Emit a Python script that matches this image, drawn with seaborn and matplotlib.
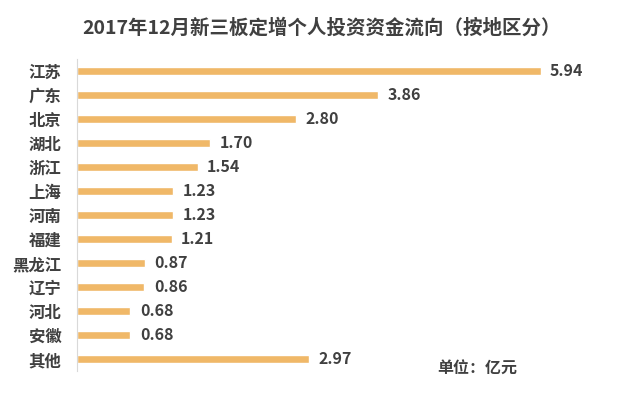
import pandas as pd
import matplotlib
matplotlib.use("Agg")
import matplotlib.pyplot as plt
import seaborn as sns

regions = ["江苏", "广东", "北京", "湖北", "浙江", "上海", "河南", "福建",
           "黑龙江", "辽宁", "河北", "安徽", "其他"]
amounts = [5.94, 3.86, 2.80, 1.70, 1.54, 1.23, 1.23, 1.21, 0.87, 0.86, 0.68, 0.68, 2.97]

title = "2017年12月新三板定增个人投资资金流向（按地区分）"
unit_note = "单位：亿元"

df = pd.DataFrame({"region": regions, "amount": amounts})

sns.set_style("white")
plt.rcParams['font.family'] = ['Noto Sans CJK SC', 'DejaVu Sans']

text_color = "#404040"
bar_color = "#F0B868"

fig = plt.figure(figsize=(6.4, 3.99), dpi=100)
ax = fig.add_axes([0.121, 0.070, 0.865, 0.782])

sns.barplot(data=df, y="region", x="amount", orient="h", color=bar_color,
            width=0.3, saturation=1, ax=ax)

ax.set_xlim(0, 7.1)
ax.set_ylim(len(regions) - 0.5, -0.5)
ax.set_xlabel("")
ax.set_ylabel("")
ax.set_xticks([])

for s in ["top", "right", "bottom"]:
    ax.spines[s].set_visible(False)
ax.spines["left"].set_color("#D9D9D9")
ax.spines["left"].set_linewidth(0.8)

# labels are right-aligned, ending about 16 px left of the axis
ax.tick_params(axis="y", length=0, pad=11.5)
for lbl in ax.get_yticklabels():
    lbl.set_fontsize(11.8)
    lbl.set_fontweight("bold")
    lbl.set_color(text_color)

for i, v in enumerate(amounts):
    ax.text(v + 0.12, i, f"{v:.2f}", va="center", ha="left",
            fontsize=11.5, fontweight="bold", color=text_color)

fig.text(0.503, 0.93, title, ha="center", va="center", fontsize=14,
         fontweight="bold", color=text_color)
fig.text(0.683, 0.075, unit_note, ha="left", va="center", fontsize=11.5,
         fontweight="bold", color=text_color)

fig.savefig("out.png", dpi=100)
